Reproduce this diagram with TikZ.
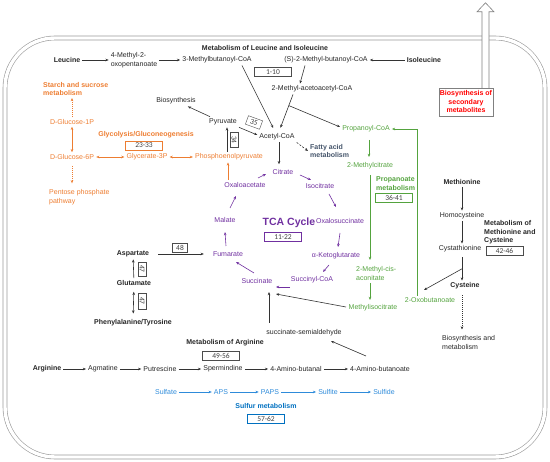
\documentclass[tikz,border=0pt]{standalone}
\usepackage{fontspec}
\setmainfont{Liberation Sans}
\newfontfamily\boxfont{Carlito}
\usepackage{xcolor}
\usepackage{tikz}
\usetikzlibrary{arrows.meta,calc}

\definecolor{tcapurple}{RGB}{112,48,160}
\definecolor{glyorange}{RGB}{237,125,49}
\definecolor{propgreen}{RGB}{84,163,62}
\definecolor{sulfblue}{RGB}{46,139,218}
\definecolor{sulfdark}{RGB}{0,112,192}
\definecolor{fattyslate}{RGB}{68,84,106}

\begin{document}
\begin{tikzpicture}[x=1pt, y=-1pt, >={Stealth[length=3.2pt,width=2.6pt]},
    every node/.style={inner sep=2pt, font=\fontsize{7}{8.5}\selectfont, text=black!85},
    hdr/.style={font=\fontsize{7}{8.5}\selectfont\bfseries},
    numbox/.style={draw=black!70, text=black!75, font=\boxfont\fontsize{7.5}{8}\selectfont, minimum width=37pt, minimum height=9pt, inner sep=0pt},
    conn/.style={->, line width=0.6pt, draw=black!80},
    dotconn/.style={conn, dash pattern=on 1pt off 1pt}]
    \useasboundingbox (0,0) rectangle (550,462);

    % cell
    \draw[draw=black!40, line width=0.6pt, double=white, double distance=3.4pt, rounded corners=50pt] (5,38) rectangle (545,457);
    \node (biosec) [hdr, draw=black!50, fill=white, text=red, align=center, minimum width=54pt, minimum height=28pt, inner sep=1pt] at (466,102) {Biosynthesis of\\secondary\\metabolites};
    \draw[black!50, fill=white, line width=0.6pt] ($(biosec.north)+(16,0)$) -- ++(0,-76) -- ++(-5,0) -- ++(8.5,-9) -- ++(8.5,9) -- ++(-5,0) -- ++(0,76);

    % leucine / isoleucine
    \node (leucine) [hdr] at (67,60) {Leucine};
    \node (mopent) [align=left] at (134,60) {4-Methyl-2-\\oxopentanoate};
    \node (mbcoa) at (217,60) {3-Methylbutanoyl-CoA};
    \node (leuhdr) [hdr] at (265,48) {Metabolism of Leucine and Isoleucine};
    \node (b110) [numbox] at (273,72) {1-10};
    \node (smbcoa) at (326,60) {(S)-2-Methyl-butanoyl-CoA};
    \node (isoleucine) [hdr] at (424,60) {Isoleucine};
    \node (macoa) at (312,89) {2-Methyl-acetoacetyl-CoA};
    \node (acetyl) at (277,137) {Acetyl-CoA};
    \node (propcoa) [text=propgreen] at (366,129) {Propanoyl-CoA};
    \node (fatty) [hdr, text=fattyslate, align=left, anchor=west] at (308,151) {Fatty acid\\metabolism};
    \node (pyruvate) at (223,122) {Pyruvate};
    \node (biosyn) at (176,101) {Biosynthesis};
    \node (b35) [numbox, minimum width=15pt, rotate=-20] at (254,122.5) {35};
    \node (b34) [numbox, minimum width=15pt, minimum height=8pt, rotate=-90] at (234,140) {34};

    % glycolysis
    \node (starch) [hdr, text=glyorange, align=left, anchor=west] at (41,89) {Starch and sucrose\\metabolism};
    \node (glc1p) [text=glyorange] at (72,122) {D-Glucose-1P};
    \node (glyhdr) [hdr, text=glyorange] at (146,135) {Glycolysis/Gluconeogenesis};
    \node (b2333) [numbox, draw=glyorange] at (144,145.5) {23-33};
    \node (glc6p) [text=glyorange] at (72,157) {D-Glucose-6P};
    \node (gly3p) [text=glyorange] at (147,157) {Glycerate-3P};
    \node (pep) [text=glyorange] at (229,157) {Phosphoenolpyruvate};
    \node (pentose) [text=glyorange, align=left, anchor=west] at (47,197) {Pentose phosphate\\pathway};

    % TCA cycle
    \node (citrate) [text=tcapurple] at (283,172) {Citrate};
    \node (isocitrate) [text=tcapurple] at (320,186) {Isocitrate};
    \node (oxalosucc) [text=tcapurple] at (340,221) {Oxalosuccinate};
    \node (akg) [text=tcapurple] at (336,256) {α-Ketoglutarate};
    \node (succoa) [text=tcapurple] at (312,280) {Succinyl-CoA};
    \node (succinate) [text=tcapurple] at (257,281) {Succinate};
    \node (fumarate) [text=tcapurple] at (228,254) {Fumarate};
    \node (malate) [text=tcapurple] at (225,220) {Malate};
    \node (oxal) [text=tcapurple] at (245,185) {Oxaloacetate};
    \node (tcahdr) [text=tcapurple, font=\fontsize{10.5}{12}\selectfont\bfseries] at (289,223) {TCA Cycle};
    \node (b1122) [numbox, draw=tcapurple] at (283,237) {11-22};

    % propanoate
    \node (mcitrate) [text=propgreen] at (370,166) {2-Methylcitrate};
    \node (prophdr) [hdr, text=propgreen, align=left, anchor=west] at (374,183.5) {Propanoate\\metabolism};
    \node (b3641) [numbox, draw=propgreen] at (394,197.5) {36-41};
    \node (mcisacon) [text=propgreen, align=left, anchor=west] at (354,273.5) {2-Methyl-cis-\\aconitate};
    \node (mic) [text=propgreen] at (373,308) {Methylisocitrate};
    \node (oxobut) [text=propgreen] at (430,300) {2-Oxobutanoate};

    % methionine / cysteine
    \node (methionine) [hdr] at (462,182) {Methionine};
    \node (homocys) at (462,216) {Homocysteine};
    \node (cysta) at (460,249) {Cystathionine};
    \node (methdr) [hdr, align=left, anchor=west] at (482,232.5) {Metabolism of\\Methionine and\\Cysteine};
    \node (b4246) [numbox] at (504.5,251) {42-46};
    \node (cysteine) [hdr] at (465,286) {Cysteine};
    \node (bioandmet) [align=left, anchor=west] at (440,342.5) {Biosynthesis and\\metabolism};

    % amino acids
    \node (aspartate) [hdr] at (133,254) {Aspartate};
    \node (b48) [numbox, minimum width=15pt] at (180,248) {48};
    \node (glutamate) [hdr] at (134,283) {Glutamate};
    \node (b47a) [numbox, minimum width=14pt, minimum height=8pt, rotate=-90] at (142,269) {47};
    \node (b47b) [numbox, minimum width=16pt, minimum height=8pt, rotate=-90] at (142,301) {47};
    \node (phetyr) [hdr] at (133,323) {Phenylalanine/Tyrosine};

    % arginine
    \node (arghdr) [hdr] at (225,343) {Metabolism of Arginine};
    \node (b4956) [numbox] at (221,355.5) {49-56};
    \node (arginine) [hdr] at (47,369) {Arginine};
    \node (agmatine) at (103,369) {Agmatine};
    \node (putrescine) at (160,369) {Putrescine};
    \node (spermindine) at (223,369) {Spermindine};
    \node (gabaal) at (296,369) {4-Amino-butanal};
    \node (gabaoate) at (380,369) {4-Amino-butanoate};
    \node (ssa) at (304,333) {succinate-semialdehyde};

    % sulfur
    \node (sulfate) [text=sulfblue] at (166,392) {Sulfate};
    \node (aps) [text=sulfblue] at (221,392) {APS};
    \node (paps) [text=sulfblue] at (270,392) {PAPS};
    \node (sulfite) [text=sulfblue] at (328,392) {Sulfite};
    \node (sulfide) [text=sulfblue] at (384,392) {Sulfide};
    \node (sulfhdr) [hdr, text=sulfdark] at (266,406) {Sulfur metabolism};
    \node (b5762) [numbox, draw=sulfdark] at (266,418.5) {57-62};

    % connectors: leucine / isoleucine
    \draw[conn] (leucine) -- (mopent);
    \draw[conn] (mopent) -- (mbcoa);
    \draw[conn] (isoleucine) -- (smbcoa);
    \draw[conn] ([xshift=-21pt]smbcoa.south) -- ([xshift=-12pt]macoa.north);
    \draw[conn, shorten >=4pt] ([xshift=25pt]mbcoa.south) -- ([xshift=-2pt]acetyl.north);
    \draw[conn, shorten >=4pt] ([xshift=-19pt]macoa.south) -- coordinate[pos=0.3] (acfork) ([xshift=2pt]acetyl.north);
    \draw[conn] (acfork) -- ([yshift=2pt]propcoa.west);
    \draw[conn, shorten >=3pt] ([xshift=2pt]acetyl.south) -- ([xshift=-4pt]citrate.north);
    \draw[conn, dash pattern=on 2pt off 1.5pt] (acetyl.south east) -- (fatty.west);
    \draw[conn] ([xshift=3pt]pyruvate.north west) -- ([xshift=-10pt]biosyn.south east);
    \draw[conn] (pyruvate.south east) -- ([yshift=2pt]acetyl.west);
    \draw[conn] ([xshift=-2pt]pep.north) -- ([xshift=4pt]pyruvate.south);

    % glycolysis
    \draw[conn, glyorange, <->] (glc6p) -- (gly3p);
    \draw[conn, glyorange, <->] (gly3p) -- (pep);
    \draw[conn, glyorange, <->] (glc1p) -- (glc6p);
    \draw[dotconn, glyorange] (glc1p.north) -- (glc1p.north |- starch.south);
    \draw[dotconn, glyorange, shorten <=4pt, shorten >=4pt] (glc6p.south) -- (glc6p.south |- pentose.north);
    \draw[conn, glyorange] ([xshift=-17pt]oxal.north) -- ([xshift=-1pt]pep.south);

    % TCA cycle
    \draw[conn, tcapurple] ($(citrate)+(17,3)$) -- ($(isocitrate)+(-9,-6)$);
    \draw[conn, tcapurple] ($(isocitrate)+(9,8)$) -- ($(oxalosucc)+(-4,-14)$);
    \draw[conn, tcapurple] ($(oxalosucc)+(0,12)$) -- ($(akg)+(2,-9)$);
    \draw[conn, tcapurple] ($(akg)+(-7,9)$) -- ($(succoa)+(11,-8)$);
    \draw[conn, tcapurple] ($(succoa)+(-22,7)$) -- ($(succinate)+(19,6)$);
    \draw[conn, tcapurple] ($(succinate)+(-3,-8)$) -- ($(fumarate)+(8,8)$);
    \draw[conn, tcapurple] ($(fumarate)+(-2,-8)$) -- ($(malate)+(0,12)$);
    \draw[conn, tcapurple] ($(malate)+(5,-12)$) -- ($(oxal)+(-9,11)$);
    \draw[conn, tcapurple] ($(oxal)+(13,-7)$) -- ($(citrate)+(-17,2)$);

    % propanoate
    \draw[conn, propgreen] ($(propcoa)+(3,11)$) -- ($(mcitrate)+(-1,-9)$);
    \draw[conn, propgreen] ($(mcitrate)+(0,9)$) -- ($(mcisacon.west)+(16,-13.5)$);
    \draw[conn, propgreen] ($(mcisacon.west)+(16,9.5)$) -- ($(mic)+(-3,-8)$);
    \draw[conn, propgreen] ($(oxobut)+(-13,-4)$) |- (propcoa.east);
    \draw[conn] ($(mic)+(-27,-1)$) -- ($(succinate)+(19,13)$);

    % methionine / cysteine
    \draw[conn] (methionine) -- (homocys);
    \draw[conn] (homocys.south) -- ([xshift=2pt]cysta.north);
    \draw[conn, shorten <=3pt] ([xshift=2pt]cysta.south) -- coordinate[pos=0.55] (cysfork) ([xshift=-3pt]cysteine.north);
    \draw[conn] (cysfork) -- ($(oxobut)+(-6,-10)$);
    \draw[dotconn, shorten <=4pt, shorten >=4pt] ([xshift=-3pt]cysteine.south) -- ([xshift=-3pt]cysteine.south |- bioandmet.north);

    % amino acids
    \draw[conn, shorten <=7pt, shorten >=7pt] (aspartate) -- (fumarate);
    \draw[conn] (glutamate) -- (aspartate);
    \draw[conn, <->, shorten <=4pt, shorten >=4pt] (glutamate) -- (phetyr);

    % arginine
    \draw[conn] (arginine) -- (agmatine);
    \draw[conn] (agmatine) -- (putrescine);
    \draw[conn] (putrescine) -- (spermindine);
    \draw[conn] (spermindine) -- (gabaal);
    \draw[conn] (gabaal) -- (gabaoate);
    \draw[conn] ($(gabaoate)+(-14,-13)$) -- ($(ssa)+(27,8)$);
    \draw[conn] ($(ssa)+(-35,-10)$) -- ($(succinate)+(12,11)$);

    % sulfur
    \draw[conn, sulfblue] (sulfate) -- (aps);
    \draw[conn, sulfblue] (aps) -- (paps);
    \draw[conn, sulfblue] (paps) -- (sulfite);
    \draw[conn, sulfblue] (sulfite) -- (sulfide);
\end{tikzpicture}
\end{document}
